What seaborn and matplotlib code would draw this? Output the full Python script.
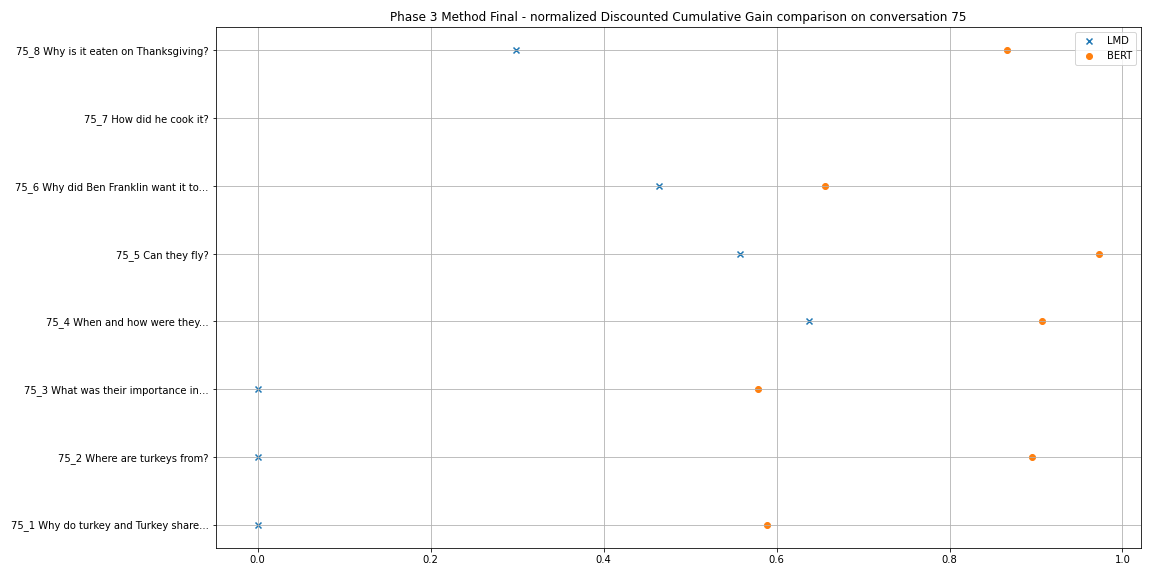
import numpy as np
import pandas as pd
import matplotlib
matplotlib.use("Agg")
import matplotlib.pyplot as plt
import seaborn as sns

# data (75_7 has no scores)
questions = [
    "75_1 Why do turkey and Turkey share...",
    "75_2 Where are turkeys from?",
    "75_3 What was their importance in...",
    "75_4 When and how were they...",
    "75_5 Can they fly?",
    "75_6 Why did Ben Franklin want it to...",
    "75_7 How did he cook it?",
    "75_8 Why is it eaten on Thanksgiving?",
]
lmd_ndcg = [0.0, 0.0, 0.0, 0.638, 0.558, 0.464, np.nan, 0.299]
bert_ndcg = [0.589, 0.895, 0.578, 0.907, 0.973, 0.656, np.nan, 0.867]

df = pd.DataFrame({
    "pos": np.arange(len(questions)),
    "LMD": lmd_ndcg,
    "BERT": bert_ndcg,
})

fig, ax = plt.subplots(figsize=(16, 8), dpi=72)

sns.scatterplot(data=df, x="LMD", y="pos", marker="x", color="C0",
                s=36, linewidth=1.5, label="LMD", ax=ax)
sns.scatterplot(data=df, x="BERT", y="pos", marker="o", color="C1",
                s=36, linewidth=1.0, edgecolor="C1", label="BERT", ax=ax)

ax.set_yticks(df["pos"])
ax.set_yticklabels(questions)
ax.set_xlabel("")
ax.set_ylabel("")
ax.set_title("Phase 3 Method Final - normalized Discounted Cumulative Gain comparison on conversation 75")
# grid stays on top of the markers, as in the original
ax.grid(True)
ax.legend(loc="upper right")

plt.tight_layout()
plt.savefig("out.png", dpi=72)
plt.close()
